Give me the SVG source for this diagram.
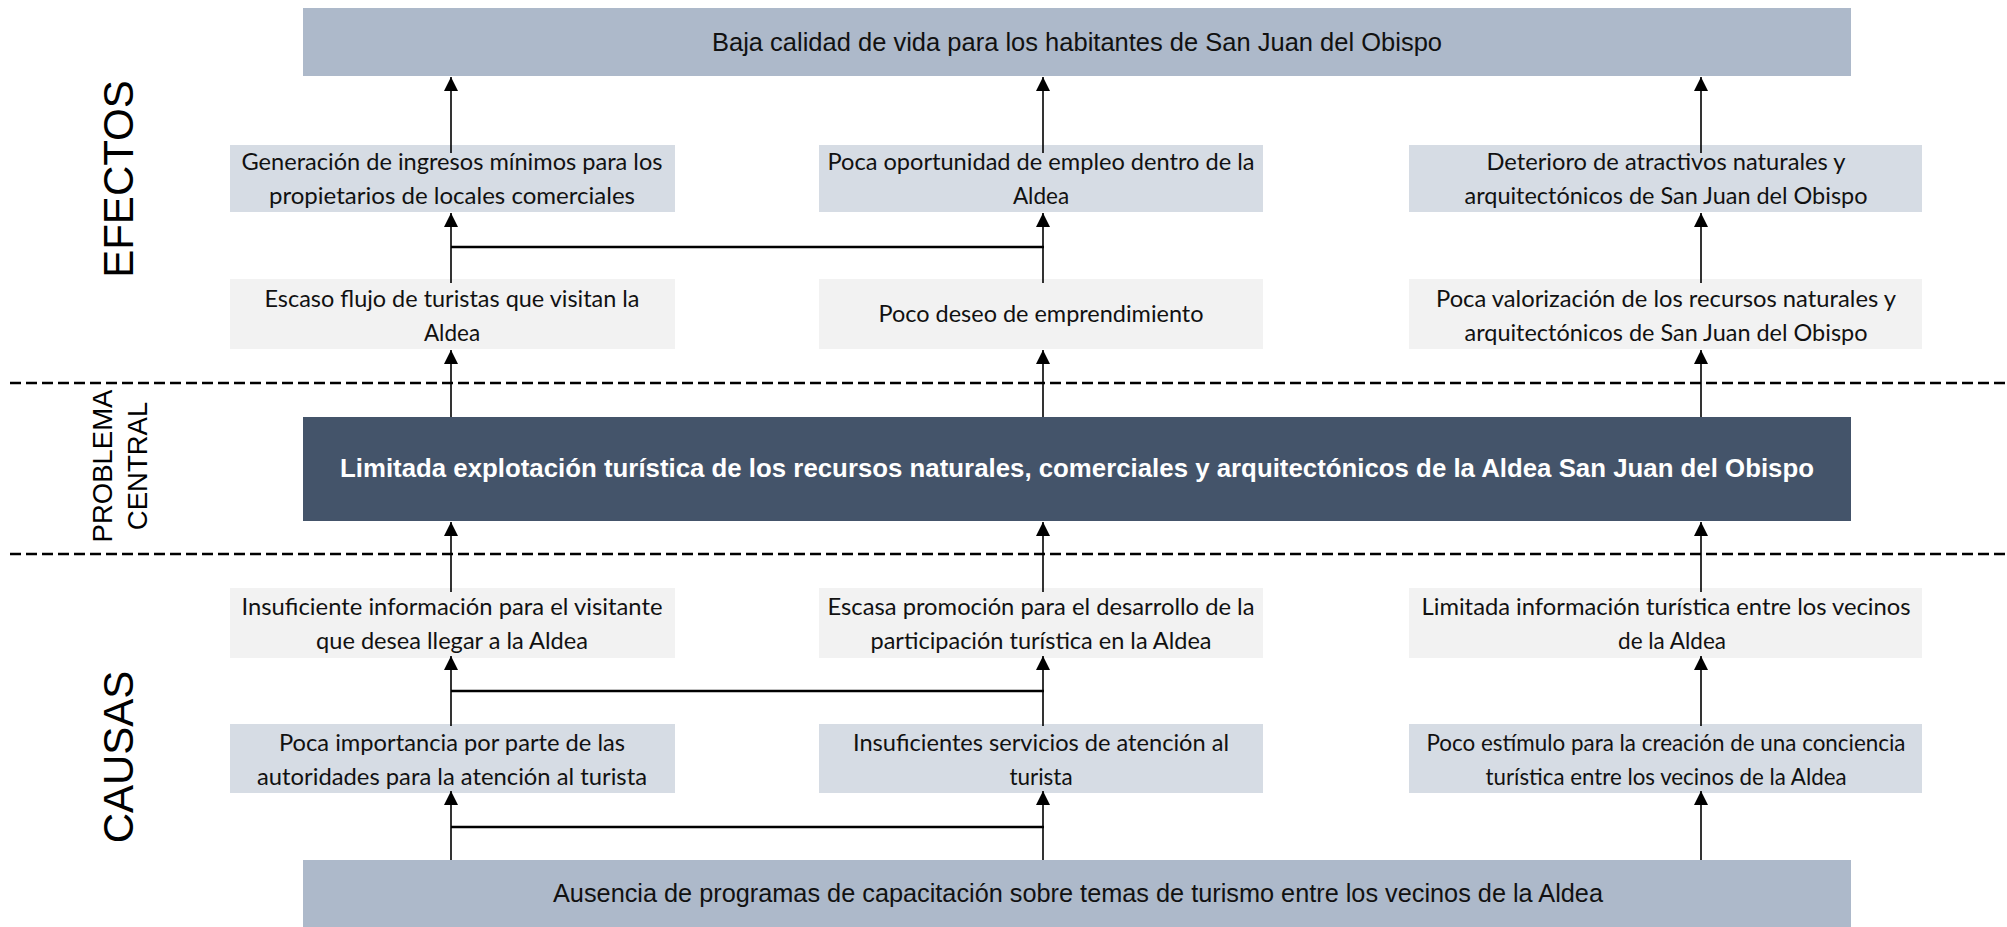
<svg xmlns="http://www.w3.org/2000/svg" width="2007" height="927" viewBox="0 0 2007 927">
<style>
.bg{fill:#ffffff}
.dark{fill:#ADB9CA}
.mid{fill:#D6DCE4}
.light{fill:#F2F2F2}
.core{fill:#44546A}
.ar{font-family:"Liberation Sans",Arial,sans-serif;font-size:25px;fill:#111;text-anchor:middle}
.cal{font-family:Lato,"Carlito","Open Sans",sans-serif;font-size:22.5px;fill:#111;text-anchor:middle}
.core-t{font-family:"Liberation Sans",Arial,sans-serif;font-size:25px;font-weight:bold;fill:#ffffff;text-anchor:middle}
.side{font-family:"Liberation Sans",Arial,sans-serif;fill:#000;text-anchor:middle}
.con{stroke:#000;stroke-width:1.6;fill:none}
.bar{stroke:#000;stroke-width:2.4;fill:none}
.dash{stroke:#000;stroke-width:2.7;stroke-dasharray:11 5;fill:none}
</style>
<defs>
<marker id="ah" markerUnits="userSpaceOnUse" markerWidth="15" markerHeight="15" refX="14" refY="7" orient="auto">
<path d="M0,0 L14,7 L0,14 z" fill="#000"/>
</marker>
</defs>
<rect class="bg" x="0" y="0" width="2007" height="927"/>

<g id="labels">
<text class="side" font-size="42" transform="translate(133,179) rotate(-90)">EFECTOS</text>
<text class="side" font-size="27.5" transform="translate(112,466) rotate(-90)">PROBLEMA</text>
<text class="side" font-size="27.5" transform="translate(147,466) rotate(-90)">CENTRAL</text>
<text class="side" font-size="42" transform="translate(133,757) rotate(-90)">CAUSAS</text>
</g>

<g id="separators">
<line class="dash" x1="10" y1="383" x2="2007" y2="383"/>
<line class="dash" x1="10" y1="554" x2="2007" y2="554"/>
</g>

<g id="efecto-final">
<rect class="dark" x="303" y="8" width="1548" height="68"/>
<text class="ar" x="1077" y="51" textLength="730" lengthAdjust="spacingAndGlyphs">Baja calidad de vida para los habitantes de San Juan del Obispo</text>
</g>

<g id="efecto-2a">
<rect class="mid" x="230" y="145" width="445" height="67"/>
<text class="cal" x="452" y="170" textLength="421" lengthAdjust="spacingAndGlyphs">Generación de ingresos mínimos para los</text>
<text class="cal" x="452" y="204" textLength="366" lengthAdjust="spacingAndGlyphs">propietarios de locales comerciales</text>
</g>
<g id="efecto-2b">
<rect class="mid" x="819" y="145" width="444" height="67"/>
<text class="cal" x="1041" y="170" textLength="427" lengthAdjust="spacingAndGlyphs">Poca oportunidad de empleo dentro de la</text>
<text class="cal" x="1041" y="204">Aldea</text>
</g>
<g id="efecto-2c">
<rect class="mid" x="1409" y="145" width="513" height="67"/>
<text class="cal" x="1666" y="170" textLength="359" lengthAdjust="spacingAndGlyphs">Deterioro de atractivos naturales y</text>
<text class="cal" x="1666" y="204" textLength="403" lengthAdjust="spacingAndGlyphs">arquitectónicos de San Juan del Obispo</text>
</g>

<g id="efecto-1a">
<rect class="light" x="230" y="279" width="445" height="70"/>
<text class="cal" x="452" y="307" textLength="375" lengthAdjust="spacingAndGlyphs">Escaso flujo de turistas que visitan la</text>
<text class="cal" x="452" y="341">Aldea</text>
</g>
<g id="efecto-1b">
<rect class="light" x="819" y="279" width="444" height="70"/>
<text class="cal" x="1041" y="322" textLength="325" lengthAdjust="spacingAndGlyphs">Poco deseo de emprendimiento</text>
</g>
<g id="efecto-1c">
<rect class="light" x="1409" y="279" width="513" height="70"/>
<text class="cal" x="1666" y="307" textLength="460" lengthAdjust="spacingAndGlyphs">Poca valorización de los recursos naturales y</text>
<text class="cal" x="1666" y="341" textLength="403" lengthAdjust="spacingAndGlyphs">arquitectónicos de San Juan del Obispo</text>
</g>

<g id="problema-central">
<rect class="core" x="303" y="417" width="1548" height="104"/>
<text class="core-t" x="1077" y="477" textLength="1474" lengthAdjust="spacingAndGlyphs">Limitada explotación turística de los recursos naturales, comerciales y arquitectónicos de la Aldea San Juan del Obispo</text>
</g>

<g id="causa-1a">
<rect class="light" x="230" y="588" width="445" height="70"/>
<text class="cal" x="452" y="615" textLength="421" lengthAdjust="spacingAndGlyphs">Insuficiente información para el visitante</text>
<text class="cal" x="452" y="649" textLength="272" lengthAdjust="spacingAndGlyphs">que desea llegar a la Aldea</text>
</g>
<g id="causa-1b">
<rect class="light" x="819" y="588" width="444" height="70"/>
<text class="cal" x="1041" y="615" textLength="427" lengthAdjust="spacingAndGlyphs">Escasa promoción para el desarrollo de la</text>
<text class="cal" x="1041" y="649" textLength="341" lengthAdjust="spacingAndGlyphs">participación turística en la Aldea</text>
</g>
<g id="causa-1c">
<rect class="light" x="1409" y="588" width="513" height="70"/>
<text class="cal" x="1666" y="615" textLength="489" lengthAdjust="spacingAndGlyphs">Limitada información turística entre los vecinos</text>
<text class="cal" x="1672" y="649">de la Aldea</text>
</g>

<g id="causa-2a">
<rect class="mid" x="230" y="724" width="445" height="69"/>
<text class="cal" x="452" y="751" textLength="346" lengthAdjust="spacingAndGlyphs">Poca importancia por parte de las</text>
<text class="cal" x="452" y="785" textLength="390" lengthAdjust="spacingAndGlyphs">autoridades para la atención al turista</text>
</g>
<g id="causa-2b">
<rect class="mid" x="819" y="724" width="444" height="69"/>
<text class="cal" x="1041" y="751" textLength="376" lengthAdjust="spacingAndGlyphs">Insuficientes servicios de atención al</text>
<text class="cal" x="1041" y="785">turista</text>
</g>
<g id="causa-2c">
<rect class="mid" x="1409" y="724" width="513" height="69"/>
<text class="cal" x="1666" y="751" textLength="479" lengthAdjust="spacingAndGlyphs">Poco estímulo para la creación de una conciencia</text>
<text class="cal" x="1666" y="785" textLength="361" lengthAdjust="spacingAndGlyphs">turística entre los vecinos de la Aldea</text>
</g>

<g id="causa-raiz">
<rect class="dark" x="303" y="860" width="1548" height="67"/>
<text class="ar" x="1078" y="902" textLength="1050" lengthAdjust="spacingAndGlyphs">Ausencia de programas de capacitación sobre temas de turismo entre los vecinos de la Aldea</text>
</g>

<g id="connectors">
<line class="con" x1="451" y1="153" x2="451" y2="77" marker-end="url(#ah)"/>
<line class="con" x1="1043" y1="153" x2="1043" y2="77" marker-end="url(#ah)"/>
<line class="con" x1="1701" y1="153" x2="1701" y2="77" marker-end="url(#ah)"/>
<line class="con" x1="451" y1="283" x2="451" y2="213" marker-end="url(#ah)"/>
<line class="con" x1="1043" y1="283" x2="1043" y2="213" marker-end="url(#ah)"/>
<line class="con" x1="1701" y1="283" x2="1701" y2="213" marker-end="url(#ah)"/>
<line class="bar" x1="451" y1="247" x2="1044" y2="247"/>
<line class="con" x1="451" y1="417" x2="451" y2="350" marker-end="url(#ah)"/>
<line class="con" x1="1043" y1="417" x2="1043" y2="350" marker-end="url(#ah)"/>
<line class="con" x1="1701" y1="417" x2="1701" y2="350" marker-end="url(#ah)"/>
<line class="con" x1="451" y1="592" x2="451" y2="522" marker-end="url(#ah)"/>
<line class="con" x1="1043" y1="592" x2="1043" y2="522" marker-end="url(#ah)"/>
<line class="con" x1="1701" y1="592" x2="1701" y2="522" marker-end="url(#ah)"/>
<line class="con" x1="451" y1="726" x2="451" y2="656" marker-end="url(#ah)"/>
<line class="con" x1="1043" y1="726" x2="1043" y2="656" marker-end="url(#ah)"/>
<line class="con" x1="1701" y1="726" x2="1701" y2="656" marker-end="url(#ah)"/>
<line class="bar" x1="451" y1="691" x2="1044" y2="691"/>
<line class="con" x1="451" y1="860" x2="451" y2="791" marker-end="url(#ah)"/>
<line class="con" x1="1043" y1="860" x2="1043" y2="791" marker-end="url(#ah)"/>
<line class="con" x1="1701" y1="860" x2="1701" y2="791" marker-end="url(#ah)"/>
<line class="bar" x1="451" y1="827" x2="1044" y2="827"/>
</g>
</svg>
